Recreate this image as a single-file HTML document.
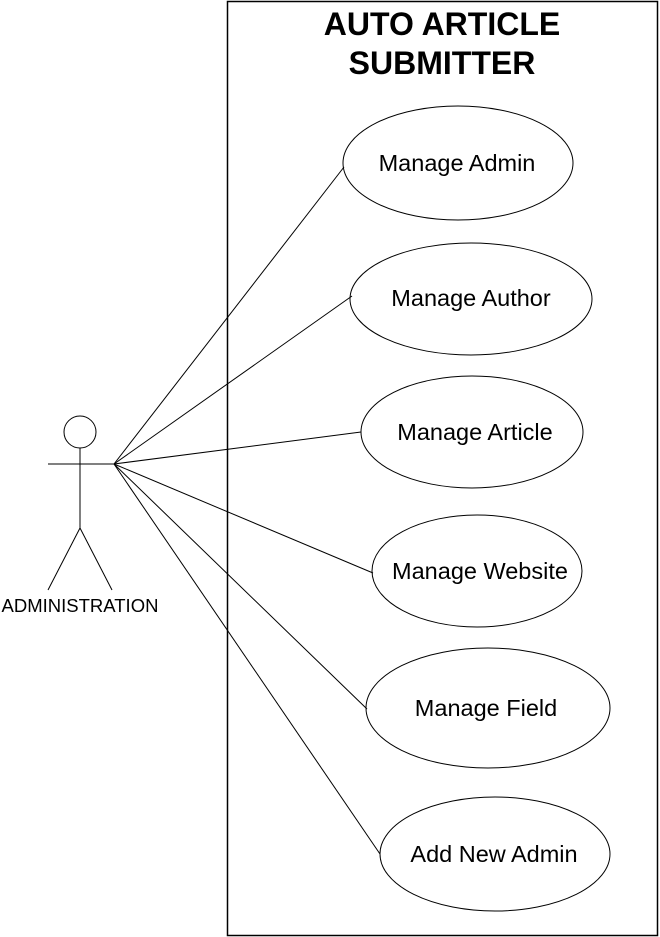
<!DOCTYPE html>
<html><head><style>html,body{margin:0;padding:0;background:#fff;}svg{display:block}</style></head>
<body>
<svg width="660" height="937" xmlns="http://www.w3.org/2000/svg" font-family="Liberation Sans, Arial, sans-serif">
<rect x="227.5" y="1.5" width="430" height="934" fill="none" stroke="#000" stroke-width="1.5"/>
<text x="442" y="35" font-size="32" font-weight="bold" text-anchor="middle">AUTO ARTICLE</text>
<text x="442" y="74" font-size="32" font-weight="bold" text-anchor="middle">SUBMITTER</text>
<g fill="none" stroke="#000" stroke-width="1">
<ellipse cx="458" cy="163" rx="115" ry="57"/>
<ellipse cx="471" cy="299" rx="121" ry="56"/>
<ellipse cx="472" cy="432" rx="111" ry="56"/>
<ellipse cx="477" cy="571" rx="105" ry="56"/>
<ellipse cx="488" cy="708" rx="122" ry="60"/>
<ellipse cx="495" cy="854" rx="115" ry="57"/>
<line x1="114" y1="464" x2="344" y2="167"/>
<line x1="114" y1="464" x2="352" y2="296"/>
<line x1="114" y1="464" x2="361" y2="432"/>
<line x1="114" y1="464" x2="373" y2="573"/>
<line x1="114" y1="464" x2="367" y2="709"/>
<line x1="114" y1="464" x2="380" y2="854"/>
<circle cx="80" cy="432" r="16"/>
<line x1="48" y1="464" x2="114" y2="464"/>
<line x1="80" y1="448" x2="80" y2="528"/>
<line x1="80" y1="528" x2="48" y2="590"/>
<line x1="80" y1="528" x2="112" y2="590"/>
</g>
<g font-size="23.5" text-anchor="middle">
<text x="457" y="171">Manage Admin</text>
<text x="471" y="306">Manage Author</text>
<text x="475" y="440">Manage Article</text>
<text x="480" y="579">Manage Website</text>
<text x="486" y="716">Manage Field</text>
<text x="494" y="862">Add New Admin</text>
</g>
<text x="80" y="612" font-size="18.5" text-anchor="middle">ADMINISTRATION</text>
</svg>
</body></html>
